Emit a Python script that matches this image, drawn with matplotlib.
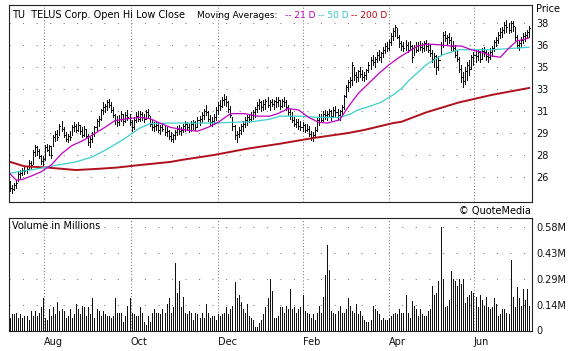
import matplotlib
matplotlib.use("Agg")
import matplotlib.pyplot as pyplot
import numpy

pyplot.rcParams['font.family'] = ['DejaVu Sans']
pyplot.rcParams['font.size'] = 7

# one bar per trading day, mid July -> early July
low = [
    24.7, 24.6, 24.8, 25.0, 25.5, 25.8, 26.0, 26.1, 26.2, 26.5,
    26.6, 26.9, 27.5, 27.6, 27.4, 26.9, 26.8, 27.2, 27.9, 27.6,
    27.4, 28.3, 28.7, 28.8, 29.2, 29.5, 29.0, 28.7, 28.6, 28.8,
    29.2, 29.5, 29.4, 29.5, 29.3, 29.0, 29.1, 29.0, 28.4, 28.2,
    28.6, 29.1, 29.6, 29.9, 30.4, 30.9, 31.0, 31.2, 31.4, 31.0,
    30.6, 30.1, 29.9, 30.0, 30.3, 30.0, 30.2, 30.4, 30.0, 29.5,
    29.7, 30.2, 30.3, 30.3, 30.4, 30.2, 30.5, 30.6, 29.9, 29.6,
    29.5, 29.6, 29.4, 29.3, 29.5, 29.2, 29.1, 28.9, 28.7, 28.6,
    28.9, 29.2, 29.3, 29.2, 29.4, 29.5, 29.6, 29.4, 29.5, 29.7,
    29.6, 29.8, 30.0, 30.2, 30.5, 30.8, 30.3, 30.0, 29.9, 30.1,
    30.4, 30.9, 31.2, 31.4, 31.6, 31.5, 31.0, 30.6, 29.6, 28.9,
    28.6, 29.0, 29.3, 29.5, 29.8, 30.0, 30.2, 30.3, 30.5, 30.6,
    31.0, 31.3, 31.1, 31.2, 31.3, 31.4, 31.2, 31.5, 31.3, 31.4,
    31.5, 31.3, 31.4, 31.5, 31.2, 30.8, 30.5, 30.2, 29.9, 29.8,
    29.7, 29.6, 29.5, 29.4, 29.5, 29.1, 28.8, 28.7, 29.0, 29.5,
    30.0, 30.2, 30.3, 30.5, 30.4, 30.6, 30.4, 30.6, 30.7, 30.5,
    30.4, 30.8, 31.3, 32.2, 32.7, 33.0, 33.2, 33.6, 33.4, 33.5,
    33.8, 33.6, 33.5, 33.7, 34.2, 34.5, 34.8, 34.6, 35.0, 35.2,
    35.0, 35.4, 35.7, 35.9, 36.0, 36.4, 36.8, 37.1, 36.9, 36.2,
    36.0, 35.9, 36.0, 35.8, 36.0, 35.0, 35.6, 35.8, 35.9, 36.0,
    35.8, 35.9, 36.0, 35.8, 35.5, 35.0, 34.6, 34.1, 34.4, 35.6,
    36.2, 36.7, 36.4, 36.5, 36.0, 35.9, 35.4, 35.1, 34.2, 33.4,
    33.0, 33.3, 33.6, 34.0, 34.5, 34.8, 35.0, 35.2, 35.0, 35.3,
    35.5, 35.2, 35.0, 35.3, 35.5, 35.9, 36.3, 36.5, 36.9, 37.0,
    37.3, 37.4, 37.3, 37.4, 37.5, 36.8, 36.1, 36.0, 36.2, 36.5,
    36.7, 36.9, 37.0,
]
high = [
    25.5, 25.2, 25.4, 25.6, 26.3, 26.4, 26.6, 26.7, 26.7, 27.2,
    27.1, 28.0, 28.4, 28.3, 28.1, 27.6, 27.5, 28.4, 28.5, 28.4,
    28.3, 29.2, 29.5, 29.6, 30.1, 30.3, 29.8, 29.4, 29.3, 29.5,
    30.0, 30.2, 30.1, 30.2, 30.0, 29.8, 29.9, 29.7, 29.3, 29.0,
    29.4, 29.9, 30.5, 30.7, 31.3, 31.8, 31.7, 32.0, 32.1, 31.8,
    31.4, 30.9, 30.7, 30.8, 31.1, 30.9, 31.0, 31.2, 30.9, 30.4,
    30.6, 31.0, 31.1, 31.1, 31.0, 30.9, 31.2, 31.3, 30.7, 30.4,
    30.2, 30.3, 30.1, 30.0, 30.1, 29.9, 29.8, 29.6, 29.4, 29.3,
    29.6, 29.9, 30.0, 29.8, 30.1, 30.3, 30.2, 30.1, 30.3, 30.4,
    30.3, 30.6, 30.7, 31.0, 31.3, 31.6, 31.1, 30.8, 30.6, 30.9,
    31.4, 31.8, 32.0, 32.2, 32.5, 32.3, 31.9, 31.5, 30.6, 30.0,
    29.5, 29.8, 30.1, 30.3, 30.6, 30.8, 30.9, 31.0, 31.2, 31.4,
    31.8, 32.1, 31.9, 32.0, 32.1, 32.2, 32.0, 32.1, 32.0, 32.2,
    32.2, 32.0, 32.1, 32.2, 32.0, 31.6, 31.3, 31.0, 30.6, 30.5,
    30.5, 30.3, 30.2, 30.1, 30.1, 29.9, 29.5, 29.4, 29.8, 30.6,
    30.9, 30.9, 31.1, 31.2, 31.1, 31.3, 31.2, 31.4, 31.5, 31.3,
    31.2, 31.6, 32.4, 33.2, 33.6, 33.8, 35.0, 34.6, 34.2, 34.4,
    34.6, 34.4, 34.2, 34.5, 35.0, 35.4, 35.6, 35.4, 35.8, 36.0,
    35.8, 36.2, 36.5, 36.6, 36.8, 37.3, 37.7, 38.0, 37.7, 37.2,
    36.7, 36.6, 36.8, 36.6, 36.7, 36.4, 36.4, 36.6, 36.6, 36.7,
    36.5, 36.7, 36.8, 36.5, 36.4, 36.0, 35.7, 35.6, 35.5, 36.6,
    37.4, 37.5, 37.2, 37.3, 37.0, 36.7, 36.4, 36.0, 35.4, 34.8,
    34.2, 34.6, 35.0, 35.2, 35.6, 35.8, 36.0, 36.0, 35.9, 36.1,
    36.2, 36.0, 35.8, 36.1, 36.3, 36.8, 37.0, 37.4, 37.7, 37.8,
    38.2, 38.4, 38.1, 38.3, 38.3, 37.8, 37.2, 36.8, 37.0, 37.3,
    37.4, 37.6, 37.9,
]
close = [
    25.0, 24.9, 25.2, 25.4, 26.1, 26.2, 26.4, 26.3, 26.5, 27.0,
    26.8, 27.8, 28.2, 27.9, 27.5, 27.1, 27.3, 28.2, 28.0, 28.3,
    27.6, 29.0, 29.3, 29.0, 29.9, 29.7, 29.2, 28.9, 29.1, 29.0,
    29.8, 29.9, 29.6, 30.0, 29.5, 29.2, 29.7, 29.1, 28.6, 28.9,
    29.3, 29.8, 30.3, 30.5, 31.2, 31.4, 31.5, 31.8, 31.6, 31.2,
    30.8, 30.4, 30.2, 30.5, 30.9, 30.3, 30.8, 30.6, 30.2, 29.8,
    30.4, 30.7, 30.5, 30.9, 30.6, 30.5, 31.0, 30.8, 30.1, 29.8,
    29.9, 30.0, 29.6, 29.8, 29.7, 29.4, 29.5, 29.1, 28.9, 29.2,
    29.4, 29.7, 29.5, 29.6, 29.9, 30.1, 29.8, 29.6, 30.1, 30.2,
    29.8, 30.4, 30.5, 30.8, 31.1, 31.0, 30.5, 30.2, 30.3, 30.6,
    31.2, 31.6, 31.5, 32.0, 32.1, 31.8, 31.3, 30.8, 29.9, 29.2,
    29.3, 29.6, 29.9, 30.1, 30.4, 30.6, 30.5, 30.8, 31.0, 31.3,
    31.6, 31.8, 31.4, 31.7, 31.9, 31.6, 31.8, 31.7, 31.9, 31.8,
    32.0, 31.5, 31.9, 31.8, 31.4, 31.0, 30.7, 30.4, 30.1, 30.2,
    29.9, 29.8, 30.0, 29.6, 29.7, 29.3, 29.0, 29.2, 29.6, 30.4,
    30.6, 30.4, 30.9, 30.8, 30.9, 31.1, 30.7, 31.2, 31.0, 30.8,
    31.1, 31.4, 32.3, 33.0, 33.4, 33.6, 34.8, 34.0, 33.8, 34.3,
    34.1, 33.8, 34.0, 34.4, 34.8, 35.2, 35.0, 35.3, 35.6, 35.4,
    35.7, 36.0, 36.3, 36.1, 36.6, 37.1, 37.5, 37.8, 37.0, 36.5,
    36.3, 36.1, 36.4, 36.0, 36.3, 35.4, 36.2, 36.0, 36.4, 36.2,
    36.1, 36.5, 36.3, 36.0, 35.7, 35.3, 35.5, 34.6, 35.2, 36.4,
    37.2, 36.9, 37.0, 36.8, 36.3, 36.1, 35.6, 35.3, 34.5, 33.8,
    33.5, 34.3, 34.8, 34.5, 35.4, 35.6, 35.5, 35.8, 35.3, 35.9,
    35.8, 35.5, 35.4, 35.8, 36.1, 36.6, 36.8, 37.2, 37.4, 37.6,
    38.0, 37.8, 37.6, 38.1, 37.9, 37.0, 36.4, 36.5, 36.8, 37.1,
    37.2, 37.4, 37.7,
]
# volume in millions of shares
volume = [
    .07, .09, .09, .10, .07, .09, .07, .08, .08, .06,
    .11, .08, .11, .08, .10, .13, .18, .07, .06, .12,
    .08, .13, .09, .16, .11, .12, .11, .07, .08, .12,
    .07, .09, .15, .12, .09, .14, .13, .08, .13, .09,
    .18, .07, .12, .11, .08, .11, .09, .08, .08, .07,
    .08, .18, .10, .10, .10, .05, .08, .14, .18, .10,
    .09, .08, .08, .13, .10, .05, .03, .08, .05, .10,
    .12, .10, .10, .09, .12, .10, .15, .18, .10, .13,
    .38, .21, .28, .13, .19, .10, .09, .11, .10, .06,
    .10, .09, .07, .10, .07, .15, .10, .07, .08, .08,
    .06, .09, .08, .09, .10, .13, .09, .12, .14, .27,
    .18, .20, .16, .12, .10, .15, .08, .07, .06, .02,
    .02, .04, .06, .09, .13, .18, .29, .22, .07, .07,
    .08, .13, .13, .10, .14, .12, .23, .12, .13, .10,
    .12, .13, .20, .11, .10, .09, .07, .09, .06, .10,
    .14, .10, .19, .31, .48, .34, .11, .10, .09, .11,
    .14, .10, .10, .12, .18, .14, .11, .10, .15, .09,
    .11, .08, .06, .05, .05, .06, .14, .12, .11, .09,
    .06, .07, .06, .06, .07, .08, .09, .10, .09, .12,
    .10, .10, .20, .10, .07, .165, .14, .12, .08, .12,
    .09, .08, .08, .11, .12, .25, .20, .21, .28, .58,
    .29, .13, .14, .17, .335, .29, .28, .25, .29, .26,
    .29, .155, .19, .20, .22, .21, .19, .13, .20, .17,
    .14, .19, .13, .12, .13, .18, .15, .08, .09, .12,
    .12, .10, .09, .395, .19, .13, .245, .18, .14, .235,
    .17, .23, .14,
]

# moving averages (day index, value)
ma21_day = [0, 3, 6, 10, 15, 20, 25, 30, 36, 41, 46, 51, 57, 63, 68, 72, 78, 85, 91, 96,
            101, 107, 114, 120, 126, 130, 135, 140, 145, 150, 154, 160, 164, 169, 174, 179,
            184, 189, 193, 198, 203, 208, 214, 219, 224, 229, 234, 238, 242, 246, 250, 252]
ma21 = [26.1, 25.6, 25.65, 25.9, 26.25, 26.8, 27.7, 28.35, 28.8, 29.3, 29.8, 30.35, 30.5, 30.6,
        30.5, 30.2, 29.8, 29.6, 29.5, 29.8, 30.2, 30.9, 30.9, 30.7, 30.7, 30.9, 31.3, 31.2,
        30.6, 30.2, 30.15, 30.4, 31.4, 32.5, 33.3, 34.1, 34.8, 35.4, 35.8, 36.3, 36.45, 36.4,
        36.3, 36.3, 36.0, 35.8, 35.5, 35.4, 36.1, 36.7, 36.85, 36.95]
ma50_day = [0, 15, 23, 32, 40, 48, 56, 63, 68, 78, 88, 98, 107, 117, 126, 131, 141, 150,
            160, 165, 169, 174, 180, 186, 190, 194, 202, 210, 218, 226, 234, 243, 252]
ma50 = [26.15, 26.55, 26.8, 27.05, 27.45, 28.15, 28.95, 29.75, 30.1, 30.15, 30.15, 30.15,
        30.2, 30.25, 30.45, 30.7, 30.7, 30.6, 30.6, 30.85, 31.2, 31.45, 31.8, 32.4, 32.9,
        33.6, 34.8, 35.6, 36.0, 36.0, 36.0, 36.1, 36.2]
ma200_day = [0, 7, 18, 32, 43, 52, 63, 78, 83, 99, 115, 131, 147, 164, 172, 186, 190, 202,
             218, 234, 252]
ma200 = [27.05, 26.7, 26.6, 26.4, 26.5, 26.6, 26.8, 27.05, 27.2, 27.6, 28.1, 28.5, 28.95,
         29.35, 29.6, 30.15, 30.25, 31.0, 31.8, 32.4, 32.95]

month_names = ["Aug", "Oct", "Dec", "Feb", "Apr", "Jun"]
month_day = [16.5, 58.7, 101.0, 142.2, 184.0, 225.2]
price_labels = ["26", "28", "29", "31", "33", "35", "36", "38"]
volume_ticks = [0, 0.145, 0.29, 0.435, 0.58]
volume_labels = ["0", "0.14M", "0.29M", "0.43M", "0.58M"]

W, H = 581, 351
fig = pyplot.figure(figsize=(W / 100, H / 100), dpi=100)
fig.patch.set_facecolor("white")

ax1 = fig.add_axes([9 / W, 1 - 202 / H, 523 / W, 197.5 / H])
ax2 = fig.add_axes([9 / W, 1 - 330.5 / H, 523 / W, 112.5 / H])

days = numpy.arange(len(close))
bar_color = "#111111"

# price bars + moving averages (1px crisp lines like the original)
ax1.vlines(days, low, high, color=bar_color, linewidth=0.68, antialiased=False)
ax1.hlines(close, days, days + 0.5, color=bar_color, linewidth=0.68, antialiased=False)
ax1.plot(ma200_day, ma200, color="#b0101c", linewidth=1.4)
ax1.plot(ma50_day, ma50, color="#3ccfd0", linewidth=0.9)
ax1.plot(ma21_day, ma21, color="#c400c4", linewidth=0.9)

ax1.set_xlim(-0.5, 253.4)
ax1.set_ylim(23.85, 39.61)
ax1.set_yticks(numpy.linspace(25.84, 38.13, 8))
ax1.set_yticklabels(price_labels)
ax1.set_xticks(month_day)
ax1.set_xticklabels([])

# volume bars
ax2.vlines(days, 0, volume, color=bar_color, linewidth=0.68, antialiased=False)
ax2.set_xlim(-0.5, 253.4)
ax2.set_ylim(0, 0.63)
ax2.set_yticks(volume_ticks)
ax2.set_yticklabels(volume_labels)
ax2.set_xticks(month_day)
ax2.set_xticklabels(month_names, ha="left")

for ax in (ax1, ax2):
    ax.yaxis.tick_right()
    ax.tick_params(axis="y", length=0, pad=3, labelsize=7, colors="#111111")
    ax.tick_params(axis="x", length=0, pad=4.5, labelsize=7, colors="#111111")
    ax.grid(True, axis="y", color="#7a7a7a", linewidth=0.75, linestyle=(0, (1, 12)))
    ax.grid(True, axis="x", color="#7a7a7a", linewidth=0.75, linestyle=(0, (1, 2)))
    ax.set_axisbelow(True)
    for s in ax.spines.values():
        s.set_linewidth(0.8)
        s.set_color("#222222")

# header texts
ty = 1 - 15 / H
fig.text(12 / W, ty, "TU  TELUS Corp. Open Hi Low Close", va="center", ha="left", fontsize=7)
fig.text(197 / W, ty, "Moving Averages:", va="center", ha="left", fontsize=6.5)
fig.text(285 / W, ty, "-- 21 D", va="center", ha="left", fontsize=6.5, color="#c400c4")
fig.text(318 / W, ty, "-- 50 D", va="center", ha="left", fontsize=6.5, color="#30c8c8")
fig.text(351 / W, ty, "-- 200 D", va="center", ha="left", fontsize=6.5, color="#c00010")
fig.text(536 / W, 1 - 8.5 / H, "Price", va="center", ha="left", fontsize=7)
fig.text(531 / W, 1 - 211 / H, "\u00a9 QuoteMedia", va="center", ha="right", fontsize=7)
fig.text(12 / W, 1 - 226 / H, "Volume in Millions", va="center", ha="left", fontsize=7)

pyplot.savefig("out.png", dpi=100, facecolor="white")
pyplot.close("all")
